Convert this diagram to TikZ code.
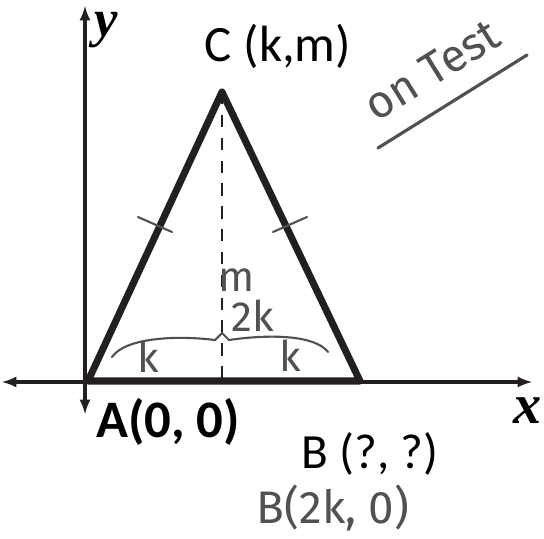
\documentclass[tikz,border=0pt]{standalone}
\usepackage{fontspec}
\setmainfont{Carlito}
\newfontfamily\handfont{Fira Sans}
\newfontfamily\axisfont{Liberation Serif}
\definecolor{black}{cmyk}{0.00,0.00,0.00,1.00}
\definecolor{darkgrey}{cmyk}{0.00,0.00,0.00,0.78}
\usetikzlibrary{arrows}
\usetikzlibrary{positioning}
\tikzstyle{base}=[x=0.02cm, y=-0.02cm, inner sep=0pt, outer sep=0pt]
\tikzstyle{axis}=[black, line width=1.8pt, latex-latex]
\tikzstyle{side}=[black, line width=4pt, line join=round]
\tikzstyle{hand}=[darkgrey, line width=1.2pt, line cap=round]
\tikzstyle{handtext}=[darkgrey, font=\handfont\fontsize{24}{26}\selectfont]

\begin{document}
\begin{tikzpicture}[base]
    \useasboundingbox (0,0) rectangle (544,538);
        \coordinate (A) at (88,381);
        \coordinate (B) at (360,381);
        \coordinate (C) at (222,92);
        \coordinate (M) at (222,381);
        \coordinate (xl) at (2,382);
        \coordinate (xr) at (532,382);
        \coordinate (yb) at (85,414);
        \coordinate (yt) at (85,6);
        \draw [axis] (xl) -- (xr);
        \draw [axis] (yb) -- (yt);
        \draw [side] (A) -- (C) -- (B) -- cycle;
        \draw [black, line width=1.6pt, dash pattern=on 7pt off 6pt] (C) -- (M);
        \draw [hand] (138,217) -- (172,232);
        \draw [hand] (273,232) -- (307,217);
        \draw [hand] (112,357) .. controls (125,338) and (175,335) .. (215,340)
            -- (222,333) -- (229,340) .. controls (270,334) and (315,335) .. (328,352);
        \node [font=\axisfont\bfseries\itshape\fontsize{30}{30}\selectfont] (lbly) at (106,30) {y};
        \node [font=\axisfont\bfseries\itshape\fontsize{32}{32}\selectfont] (lblx) at (528,411) {x};
        \node [font=\fontsize{29}{30}\selectfont] (lblC) at (278,46) {C (k,m)};
        \node [font=\bfseries\fontsize{30}{34}\selectfont] (lblA) at (168,422) {A(0, 0)};
        \node [font=\fontsize{28}{30}\selectfont] (lblB) at (370,454) {B (?, ?)};
        \node [handtext, font=\handfont\fontsize{26}{28}\selectfont] (lblBsol) at (333,508) {B(2k, 0)};
        \node [handtext] (lblm) at (237,280) {m};
        \node [handtext] (lbl2k) at (253,316) {2k};
        \node [handtext] (lblk1) at (148,357) {k};
        \node [handtext] (lblk2) at (290,356) {k};
        \node [handtext, rotate=32, font=\handfont\fontsize{26}{28}\selectfont] (note) at (432,70) {on Test};
        \coordinate (u1) at (378,148);
        \coordinate (u2) at (527,55);
        \draw [hand, line width=1.8pt] (u1) -- (u2);
    \end{tikzpicture}
\end{document}
